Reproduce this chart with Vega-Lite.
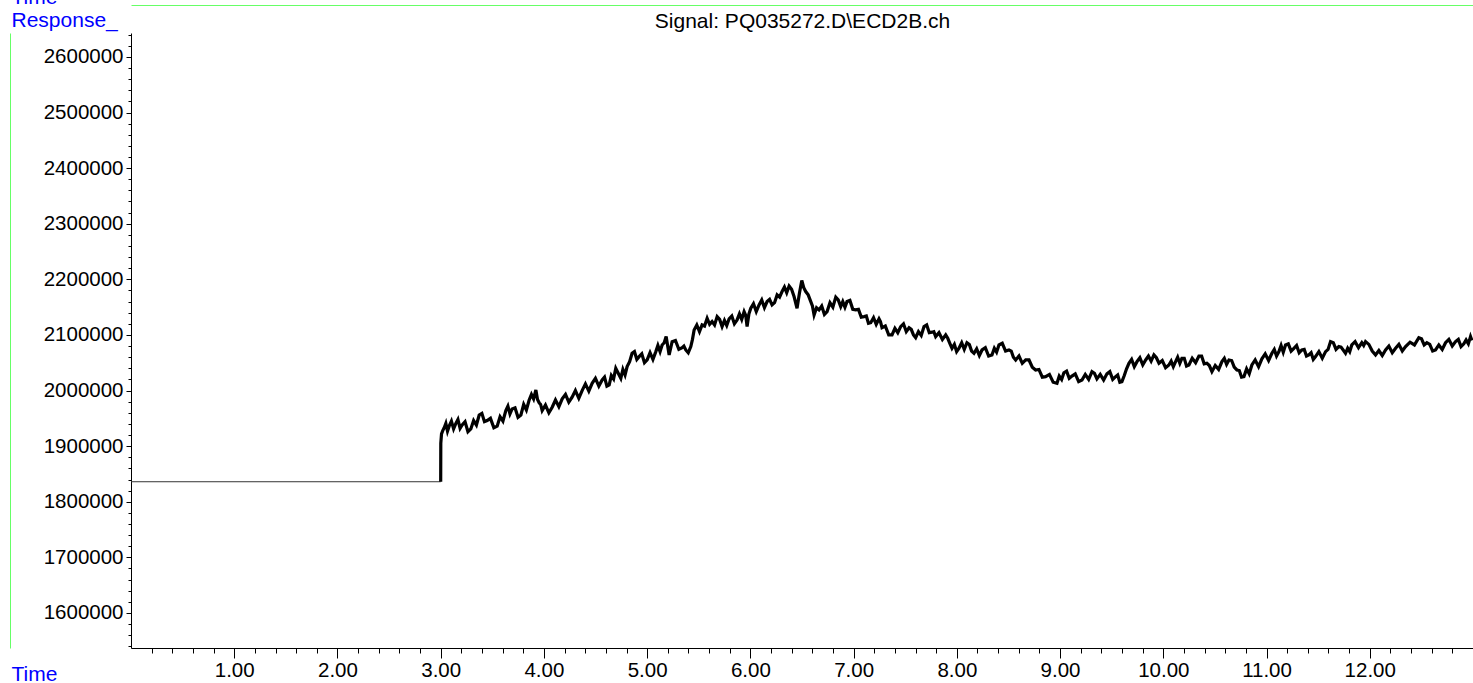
{
  "$schema": "https://vega.github.io/schema/vega-lite/v6.json",
  "width": 1342,
  "height": 615,
  "autosize": "none",
  "padding": {"left": 131, "top": 33, "right": 0, "bottom": 35},
  "background": "white",
  "config": {
    "view": {"stroke": null},
    "font": "Liberation Sans",
    "axis": {"grid": false, "labelFont": "Liberation Sans", "titleFont": "Liberation Sans"}
  },
  "data": {
    "values": [
      {"t": 0, "v": 1836000}, {"t": 3.0, "v": 1836000},
      {"t": 3.001, "v": 1905000}, {"t": 3.008, "v": 1922000}, {"t": 3.02, "v": 1928000},
      {"t": 3.034, "v": 1933000}, {"t": 3.050, "v": 1941000}, {"t": 3.066, "v": 1927000},
      {"t": 3.082, "v": 1936000}, {"t": 3.104, "v": 1945000}, {"t": 3.125, "v": 1931000},
      {"t": 3.147, "v": 1941000}, {"t": 3.167, "v": 1948000}, {"t": 3.188, "v": 1932000},
      {"t": 3.208, "v": 1938000}, {"t": 3.236, "v": 1944000}, {"t": 3.264, "v": 1926000},
      {"t": 3.292, "v": 1931000}, {"t": 3.319, "v": 1946000}, {"t": 3.346, "v": 1938000},
      {"t": 3.373, "v": 1956000}, {"t": 3.399, "v": 1959000}, {"t": 3.424, "v": 1944000},
      {"t": 3.450, "v": 1946000}, {"t": 3.482, "v": 1950000}, {"t": 3.515, "v": 1933000},
      {"t": 3.547, "v": 1936000}, {"t": 3.575, "v": 1953000}, {"t": 3.603, "v": 1945000},
      {"t": 3.631, "v": 1964000}, {"t": 3.651, "v": 1972000}, {"t": 3.671, "v": 1958000},
      {"t": 3.692, "v": 1967000}, {"t": 3.720, "v": 1969000}, {"t": 3.749, "v": 1952000},
      {"t": 3.777, "v": 1956000}, {"t": 3.804, "v": 1975000}, {"t": 3.830, "v": 1965000},
      {"t": 3.857, "v": 1983000}, {"t": 3.879, "v": 1993000}, {"t": 3.900, "v": 1985000},
      {"t": 3.922, "v": 2001000}, {"t": 3.938, "v": 1984000},
      {"t": 3.954, "v": 1978000}, {"t": 3.968, "v": 1975000},
      {"t": 3.983, "v": 1964000}, {"t": 4.015, "v": 1974000}, {"t": 4.048, "v": 1960000},
      {"t": 4.080, "v": 1970000}, {"t": 4.112, "v": 1983000}, {"t": 4.145, "v": 1971000},
      {"t": 4.177, "v": 1985000}, {"t": 4.209, "v": 1993000}, {"t": 4.241, "v": 1979000},
      {"t": 4.273, "v": 1988000}, {"t": 4.305, "v": 2000000}, {"t": 4.338, "v": 1986000},
      {"t": 4.370, "v": 2000000}, {"t": 4.402, "v": 2012000}, {"t": 4.435, "v": 1999000},
      {"t": 4.467, "v": 2013000}, {"t": 4.499, "v": 2022000}, {"t": 4.532, "v": 2008000},
      {"t": 4.564, "v": 2019000}, {"t": 4.587, "v": 2024000}, {"t": 4.610, "v": 2008000},
      {"t": 4.632, "v": 2010000}, {"t": 4.653, "v": 2027000}, {"t": 4.675, "v": 2021000},
      {"t": 4.696, "v": 2040000}, {"t": 4.720, "v": 2031000},
      {"t": 4.745, "v": 2022000}, {"t": 4.765, "v": 2038000}, {"t": 4.786, "v": 2028000},
      {"t": 4.806, "v": 2043000}, {"t": 4.830, "v": 2052000},
      {"t": 4.854, "v": 2067000}, {"t": 4.877, "v": 2070000}, {"t": 4.900, "v": 2056000},
      {"t": 4.922, "v": 2061000}, {"t": 4.948, "v": 2066000}, {"t": 4.974, "v": 2050000},
      {"t": 5.000, "v": 2055000}, {"t": 5.028, "v": 2068000}, {"t": 5.056, "v": 2056000},
      {"t": 5.084, "v": 2070000}, {"t": 5.104, "v": 2081000}, {"t": 5.125, "v": 2070000},
      {"t": 5.145, "v": 2082000}, {"t": 5.165, "v": 2086000},
      {"t": 5.184, "v": 2097000}, {"t": 5.213, "v": 2064000}, {"t": 5.242, "v": 2088000},
      {"t": 5.274, "v": 2090000}, {"t": 5.307, "v": 2074000},
      {"t": 5.339, "v": 2077000}, {"t": 5.356, "v": 2080000},
      {"t": 5.374, "v": 2073000}, {"t": 5.398, "v": 2068000},
      {"t": 5.423, "v": 2079000}, {"t": 5.439, "v": 2092000},
      {"t": 5.455, "v": 2109000}, {"t": 5.481, "v": 2118000}, {"t": 5.507, "v": 2106000},
      {"t": 5.532, "v": 2118000}, {"t": 5.556, "v": 2116000},
      {"t": 5.581, "v": 2130000}, {"t": 5.605, "v": 2119000},
      {"t": 5.629, "v": 2124000}, {"t": 5.653, "v": 2118000},
      {"t": 5.678, "v": 2133000}, {"t": 5.702, "v": 2128000},
      {"t": 5.726, "v": 2115000}, {"t": 5.749, "v": 2126000}, {"t": 5.771, "v": 2117000},
      {"t": 5.794, "v": 2129000}, {"t": 5.820, "v": 2134000}, {"t": 5.845, "v": 2120000},
      {"t": 5.871, "v": 2127000}, {"t": 5.894, "v": 2138000}, {"t": 5.916, "v": 2128000},
      {"t": 5.939, "v": 2142000}, {"t": 5.955, "v": 2135000},
      {"t": 5.968, "v": 2115000}, {"t": 5.986, "v": 2138000},
      {"t": 6.004, "v": 2148000}, {"t": 6.030, "v": 2156000}, {"t": 6.057, "v": 2142000},
      {"t": 6.084, "v": 2154000}, {"t": 6.110, "v": 2163000}, {"t": 6.136, "v": 2149000},
      {"t": 6.162, "v": 2160000}, {"t": 6.186, "v": 2164000},
      {"t": 6.210, "v": 2154000}, {"t": 6.234, "v": 2158000},
      {"t": 6.259, "v": 2172000}, {"t": 6.283, "v": 2168000},
      {"t": 6.307, "v": 2178000}, {"t": 6.330, "v": 2186000}, {"t": 6.352, "v": 2176000},
      {"t": 6.375, "v": 2188000}, {"t": 6.399, "v": 2182000},
      {"t": 6.423, "v": 2169000}, {"t": 6.452, "v": 2148000}, {"t": 6.475, "v": 2175000},
      {"t": 6.498, "v": 2198000}, {"t": 6.517, "v": 2185000},
      {"t": 6.536, "v": 2178000}, {"t": 6.560, "v": 2172000},
      {"t": 6.585, "v": 2160000}, {"t": 6.601, "v": 2152000},
      {"t": 6.617, "v": 2136000}, {"t": 6.641, "v": 2149000},
      {"t": 6.665, "v": 2145000}, {"t": 6.691, "v": 2152000}, {"t": 6.717, "v": 2137000},
      {"t": 6.743, "v": 2142000}, {"t": 6.771, "v": 2158000}, {"t": 6.799, "v": 2150000},
      {"t": 6.827, "v": 2168000}, {"t": 6.851, "v": 2163000},
      {"t": 6.875, "v": 2151000}, {"t": 6.895, "v": 2160000}, {"t": 6.916, "v": 2150000},
      {"t": 6.936, "v": 2160000}, {"t": 6.964, "v": 2162000}, {"t": 6.992, "v": 2146000},
      {"t": 7.020, "v": 2145000}, {"t": 7.047, "v": 2146000}, {"t": 7.074, "v": 2132000},
      {"t": 7.101, "v": 2133000}, {"t": 7.123, "v": 2134000}, {"t": 7.144, "v": 2121000},
      {"t": 7.166, "v": 2122000}, {"t": 7.193, "v": 2131000}, {"t": 7.219, "v": 2119000},
      {"t": 7.246, "v": 2129000}, {"t": 7.260, "v": 2124000},
      {"t": 7.275, "v": 2113000}, {"t": 7.307, "v": 2116000}, {"t": 7.340, "v": 2100000},
      {"t": 7.372, "v": 2100000}, {"t": 7.400, "v": 2112000}, {"t": 7.428, "v": 2104000},
      {"t": 7.456, "v": 2115000}, {"t": 7.483, "v": 2120000}, {"t": 7.510, "v": 2106000},
      {"t": 7.537, "v": 2113000}, {"t": 7.558, "v": 2110000}, {"t": 7.580, "v": 2100000},
      {"t": 7.601, "v": 2095000}, {"t": 7.628, "v": 2106000}, {"t": 7.655, "v": 2099000},
      {"t": 7.682, "v": 2115000}, {"t": 7.708, "v": 2118000}, {"t": 7.733, "v": 2104000},
      {"t": 7.759, "v": 2105000}, {"t": 7.777, "v": 2106000},
      {"t": 7.795, "v": 2097000}, {"t": 7.827, "v": 2104000}, {"t": 7.860, "v": 2092000},
      {"t": 7.892, "v": 2100000}, {"t": 7.912, "v": 2094000}, {"t": 7.932, "v": 2085000},
      {"t": 7.953, "v": 2076000}, {"t": 7.976, "v": 2083000}, {"t": 7.998, "v": 2070000},
      {"t": 8.021, "v": 2076000}, {"t": 8.047, "v": 2086000}, {"t": 8.072, "v": 2074000},
      {"t": 8.098, "v": 2086000}, {"t": 8.121, "v": 2083000}, {"t": 8.143, "v": 2071000},
      {"t": 8.166, "v": 2067000}, {"t": 8.192, "v": 2075000}, {"t": 8.218, "v": 2063000},
      {"t": 8.244, "v": 2073000}, {"t": 8.276, "v": 2077000}, {"t": 8.308, "v": 2062000},
      {"t": 8.340, "v": 2064000}, {"t": 8.363, "v": 2076000}, {"t": 8.385, "v": 2069000},
      {"t": 8.408, "v": 2082000}, {"t": 8.440, "v": 2085000}, {"t": 8.472, "v": 2071000},
      {"t": 8.505, "v": 2073000}, {"t": 8.527, "v": 2071000}, {"t": 8.548, "v": 2060000},
      {"t": 8.570, "v": 2055000}, {"t": 8.602, "v": 2062000}, {"t": 8.634, "v": 2049000},
      {"t": 8.667, "v": 2055000}, {"t": 8.699, "v": 2055000}, {"t": 8.731, "v": 2042000},
      {"t": 8.763, "v": 2037000}, {"t": 8.795, "v": 2038000}, {"t": 8.828, "v": 2024000},
      {"t": 8.860, "v": 2025000}, {"t": 8.897, "v": 2029000}, {"t": 8.933, "v": 2015000},
      {"t": 8.970, "v": 2013000}, {"t": 8.992, "v": 2026000}, {"t": 9.015, "v": 2020000},
      {"t": 9.037, "v": 2032000}, {"t": 9.063, "v": 2035000}, {"t": 9.089, "v": 2022000},
      {"t": 9.115, "v": 2026000}, {"t": 9.147, "v": 2030000}, {"t": 9.180, "v": 2016000},
      {"t": 9.212, "v": 2019000}, {"t": 9.244, "v": 2029000}, {"t": 9.277, "v": 2020000},
      {"t": 9.309, "v": 2034000}, {"t": 9.333, "v": 2031000},
      {"t": 9.357, "v": 2021000}, {"t": 9.389, "v": 2029000}, {"t": 9.422, "v": 2019000},
      {"t": 9.454, "v": 2030000}, {"t": 9.482, "v": 2034000}, {"t": 9.510, "v": 2020000},
      {"t": 9.538, "v": 2025000}, {"t": 9.558, "v": 2028000}, {"t": 9.579, "v": 2015000},
      {"t": 9.599, "v": 2016000}, {"t": 9.622, "v": 2027000}, {"t": 9.644, "v": 2039000},
      {"t": 9.667, "v": 2049000}, {"t": 9.693, "v": 2056000}, {"t": 9.719, "v": 2043000},
      {"t": 9.745, "v": 2052000}, {"t": 9.773, "v": 2059000}, {"t": 9.801, "v": 2046000},
      {"t": 9.829, "v": 2055000}, {"t": 9.856, "v": 2062000}, {"t": 9.882, "v": 2053000},
      {"t": 9.909, "v": 2064000}, {"t": 9.933, "v": 2059000},
      {"t": 9.958, "v": 2049000}, {"t": 9.990, "v": 2054000}, {"t": 10.022, "v": 2041000},
      {"t": 10.054, "v": 2046000}, {"t": 10.076, "v": 2053000}, {"t": 10.097, "v": 2043000},
      {"t": 10.119, "v": 2052000}, {"t": 10.139, "v": 2060000}, {"t": 10.160, "v": 2049000},
      {"t": 10.180, "v": 2058000}, {"t": 10.203, "v": 2058000}, {"t": 10.225, "v": 2044000},
      {"t": 10.248, "v": 2046000}, {"t": 10.280, "v": 2058000}, {"t": 10.313, "v": 2050000},
      {"t": 10.345, "v": 2062000}, {"t": 10.371, "v": 2062000}, {"t": 10.396, "v": 2048000},
      {"t": 10.422, "v": 2049000}, {"t": 10.446, "v": 2045000},
      {"t": 10.471, "v": 2034000}, {"t": 10.503, "v": 2045000}, {"t": 10.536, "v": 2038000},
      {"t": 10.568, "v": 2052000}, {"t": 10.591, "v": 2058000}, {"t": 10.613, "v": 2047000},
      {"t": 10.636, "v": 2055000}, {"t": 10.662, "v": 2054000}, {"t": 10.687, "v": 2042000},
      {"t": 10.713, "v": 2037000}, {"t": 10.736, "v": 2036000}, {"t": 10.758, "v": 2024000},
      {"t": 10.781, "v": 2025000}, {"t": 10.807, "v": 2039000}, {"t": 10.832, "v": 2030000},
      {"t": 10.858, "v": 2046000}, {"t": 10.890, "v": 2055000}, {"t": 10.923, "v": 2043000},
      {"t": 10.955, "v": 2057000}, {"t": 10.987, "v": 2066000}, {"t": 11.020, "v": 2054000},
      {"t": 11.052, "v": 2067000}, {"t": 11.075, "v": 2074000}, {"t": 11.097, "v": 2062000},
      {"t": 11.120, "v": 2070000}, {"t": 11.141, "v": 2081000}, {"t": 11.162, "v": 2069000},
      {"t": 11.184, "v": 2082000}, {"t": 11.211, "v": 2084000}, {"t": 11.238, "v": 2071000},
      {"t": 11.265, "v": 2076000}, {"t": 11.291, "v": 2081000}, {"t": 11.316, "v": 2068000},
      {"t": 11.342, "v": 2073000}, {"t": 11.365, "v": 2074000}, {"t": 11.387, "v": 2062000},
      {"t": 11.410, "v": 2064000}, {"t": 11.432, "v": 2068000}, {"t": 11.453, "v": 2056000},
      {"t": 11.475, "v": 2061000}, {"t": 11.507, "v": 2070000}, {"t": 11.540, "v": 2058000},
      {"t": 11.572, "v": 2070000}, {"t": 11.596, "v": 2074000},
      {"t": 11.620, "v": 2088000}, {"t": 11.647, "v": 2086000}, {"t": 11.673, "v": 2074000},
      {"t": 11.700, "v": 2079000}, {"t": 11.722, "v": 2078000},
      {"t": 11.765, "v": 2067000}, {"t": 11.786, "v": 2076000}, {"t": 11.806, "v": 2070000},
      {"t": 11.826, "v": 2082000}, {"t": 11.858, "v": 2088000}, {"t": 11.891, "v": 2077000},
      {"t": 11.923, "v": 2086000}, {"t": 11.941, "v": 2081000},
      {"t": 11.959, "v": 2088000}, {"t": 11.991, "v": 2083000}, {"t": 12.024, "v": 2071000},
      {"t": 12.056, "v": 2064000}, {"t": 12.088, "v": 2072000}, {"t": 12.121, "v": 2063000},
      {"t": 12.153, "v": 2073000}, {"t": 12.185, "v": 2080000}, {"t": 12.218, "v": 2068000},
      {"t": 12.250, "v": 2076000}, {"t": 12.282, "v": 2083000}, {"t": 12.315, "v": 2071000},
      {"t": 12.347, "v": 2079000}, {"t": 12.390, "v": 2087000}, {"t": 12.433, "v": 2082000},
      {"t": 12.475, "v": 2095000}, {"t": 12.501, "v": 2093000}, {"t": 12.527, "v": 2082000},
      {"t": 12.553, "v": 2086000}, {"t": 12.581, "v": 2083000}, {"t": 12.609, "v": 2071000},
      {"t": 12.637, "v": 2073000}, {"t": 12.669, "v": 2082000}, {"t": 12.702, "v": 2074000},
      {"t": 12.734, "v": 2086000}, {"t": 12.766, "v": 2092000}, {"t": 12.799, "v": 2080000},
      {"t": 12.831, "v": 2088000}, {"t": 12.858, "v": 2092000}, {"t": 12.884, "v": 2079000},
      {"t": 12.911, "v": 2084000}, {"t": 12.933, "v": 2091000}, {"t": 12.955, "v": 2084000},
      {"t": 12.976, "v": 2097000}, {"t": 12.99, "v": 2090000}
    ]
  },
  "layer": [
    {
      "transform": [{"filter": "datum.t <= 3.0"}],
      "mark": {"type": "line", "color": "#333333", "strokeWidth": 1, "interpolate": "linear"},
      "encoding": {
        "x": {
          "field": "t", "type": "quantitative",
          "scale": {"domain": [0, 13], "nice": false, "zero": false},
          "axis": {
            "orient": "bottom",
            "title": "Time",
            "titleColor": "#0000ff",
            "titleFontSize": 21,
            "titleFontWeight": "normal",
            "titleAlign": "left",
            "titleBaseline": "alphabetic",
            "titleAnchor": "start",
            "titleX": -120,
            "titleY": 32,
            "values": [0.2,0.4,0.6,0.8,1,1.2,1.4,1.6,1.8,2,2.2,2.4,2.6,2.8,3,3.2,3.4,3.6,3.8,4,4.2,4.4,4.6,4.8,5,5.2,5.4,5.6,5.8,6,6.2,6.4,6.6,6.8,7,7.2,7.4,7.6,7.8,8,8.2,8.4,8.6,8.8,9,9.2,9.4,9.6,9.8,10,10.2,10.4,10.6,10.8,11,11.2,11.4,11.6,11.8,12,12.2,12.4,12.6,12.8],
            "labelExpr": "abs(datum.value - round(datum.value)) < 0.001 ? format(datum.value, '.2f') : ''",
            "labelFontSize": 20.5,
            "labelColor": "black",
            "labelPadding": 2,
            "labelOverlap": false,
            "labelFlush": false,
            "domainColor": "black",
            "domainWidth": 1,
            "tickColor": "black",
            "tickWidth": 1,
            "tickSize": {"condition": {"test": "abs(datum.value - round(datum.value)) < 0.001", "value": 10}, "value": 5}
          }
        },
        "y": {
          "field": "v", "type": "quantitative",
          "scale": {"domain": [1537000, 2643000], "nice": false, "zero": false},
          "axis": {
            "orient": "left",
            "title": "Response_",
            "titleColor": "#0000ff",
            "titleFontSize": 21,
            "titleFontWeight": "normal",
            "titleAngle": 0,
            "titleAlign": "left",
            "titleBaseline": "alphabetic",
            "titleX": -120,
            "titleY": -7,
            "values": [1540000,1560000,1580000,1600000,1620000,1640000,1660000,1680000,1700000,1720000,1740000,1760000,1780000,1800000,1820000,1840000,1860000,1880000,1900000,1920000,1940000,1960000,1980000,2000000,2020000,2040000,2060000,2080000,2100000,2120000,2140000,2160000,2180000,2200000,2220000,2240000,2260000,2280000,2300000,2320000,2340000,2360000,2380000,2400000,2420000,2440000,2460000,2480000,2500000,2520000,2540000,2560000,2580000,2600000,2620000,2640000],
            "labelExpr": "datum.value % 100000 == 0 ? format(datum.value, 'd') : ''",
            "labelFontSize": 20.5,
            "labelColor": "black",
            "labelPadding": 3,
            "labelOverlap": false,
            "labelFlush": false,
            "domainColor": "black",
            "domainWidth": 1,
            "tickColor": "black",
            "tickWidth": 1,
            "tickSize": {"condition": {"test": "datum.value % 100000 == 0", "value": 5}, "value": 3}
          }
        }
      }
    },
    {
      "transform": [{"filter": "datum.t >= 3.0"}],
      "mark": {"type": "line", "color": "black", "strokeWidth": 3.2, "interpolate": "linear"},
      "encoding": {
        "x": {
          "field": "t", "type": "quantitative",
          "axis": {
            "orient": "top",
            "offset": 28,
            "title": "Signal: PQ035272.D\\ECD2B.ch",
            "titleColor": "black",
            "titleFontSize": 21,
            "titleFontWeight": "normal",
            "titleAlign": "center",
            "titleBaseline": "alphabetic",
            "titleX": 671,
            "titleY": 22,
            "labels": false,
            "ticks": false,
            "domainColor": "#66ff66",
            "domainWidth": 1
          }
        },
        "y": {
          "field": "v", "type": "quantitative",
          "axis": {
            "orient": "left",
            "offset": 121,
            "title": "Time",
            "titleColor": "#0000ff",
            "titleFontSize": 21,
            "titleFontWeight": "normal",
            "titleAngle": 0,
            "titleAlign": "left",
            "titleBaseline": "alphabetic",
            "titleX": 1,
            "titleY": -30,
            "labels": false,
            "ticks": false,
            "domainColor": "#66ff66",
            "domainWidth": 1
          }
        }
      }
    }
  ],
  "resolve": {"axis": {"x": "independent", "y": "independent"}}
}
